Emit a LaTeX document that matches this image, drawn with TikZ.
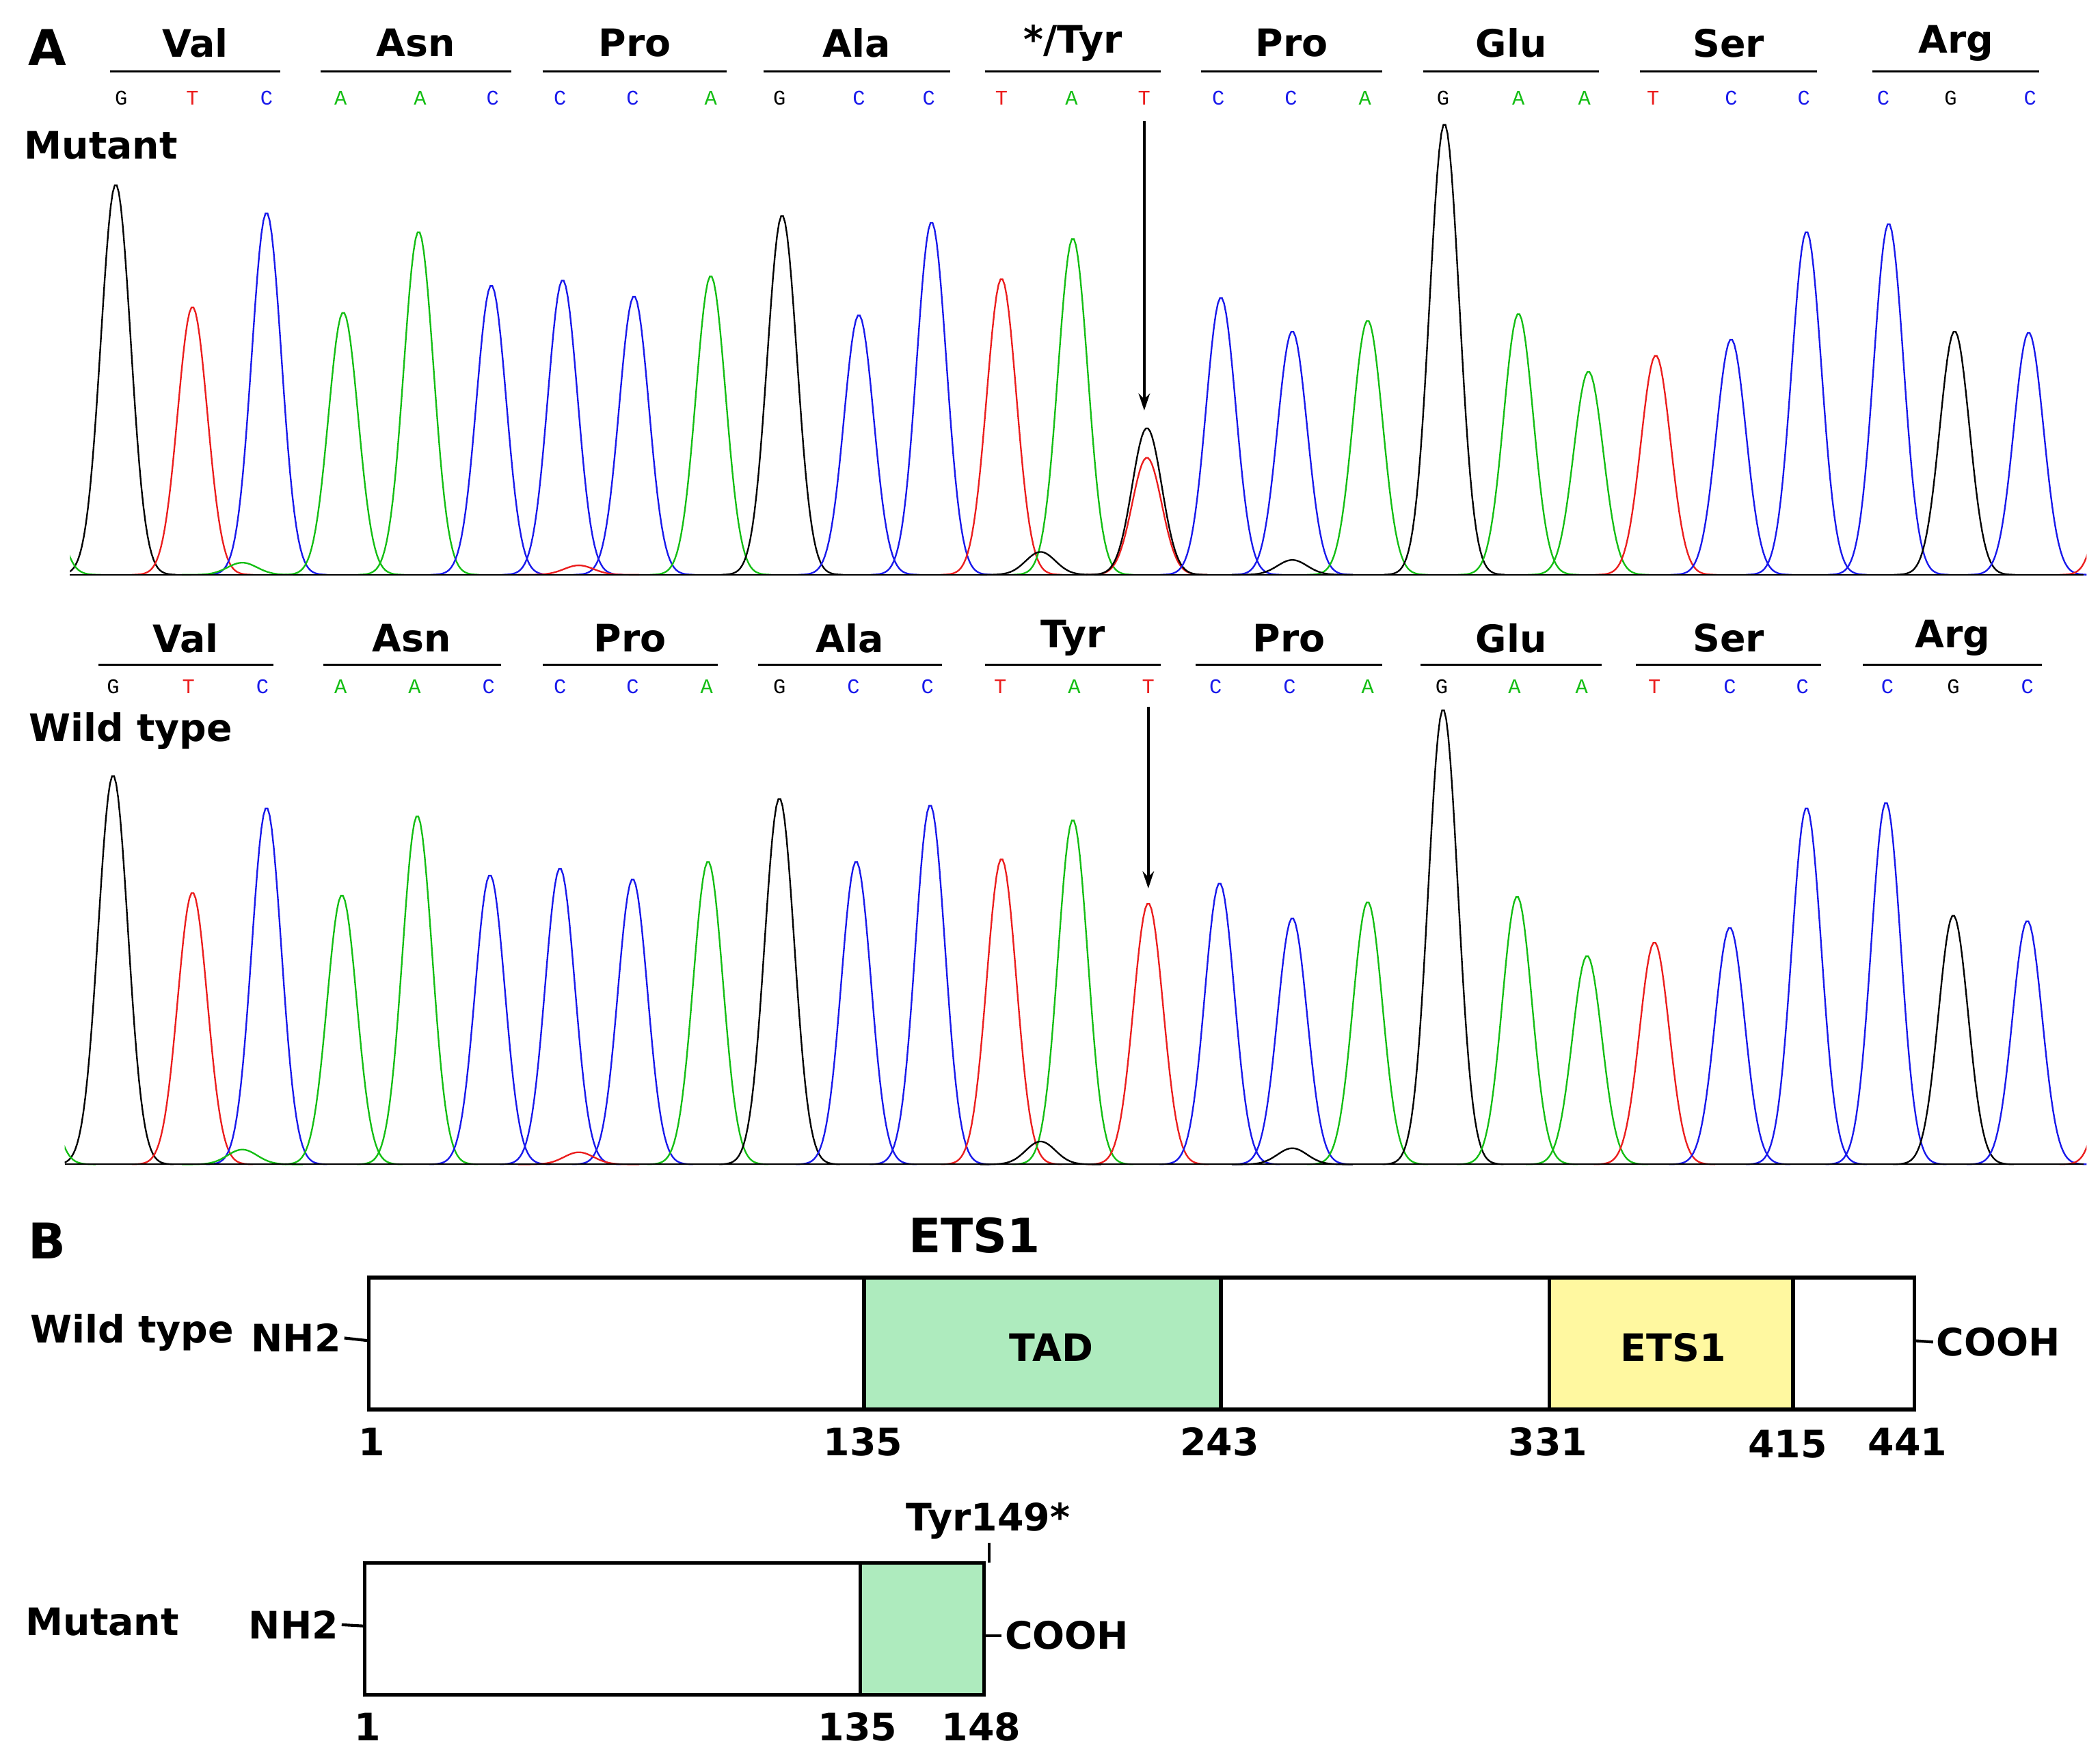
\documentclass[tikz,border=0pt]{standalone}
\usepackage{fontspec}
\setmainfont{DejaVu Sans}
\newfontfamily\monof{Liberation Mono}
\usetikzlibrary{arrows.meta}
\definecolor{tadg}{RGB}{174,235,190}
\definecolor{etsy}{RGB}{255,248,160}
\definecolor{pr}{RGB}{235,30,30}
\definecolor{pg}{RGB}{20,190,20}
\definecolor{pb}{RGB}{25,25,235}
\newcommand\pk[4]{\draw[trace,#1] plot[domain=#2-45:#2+45,samples=60,variable=\t] (\t,{#4-(#4-#3)*exp(-((\t-#2)^2)/242)});}
\begin{document}
\begin{tikzpicture}[x=0.05cm,y=-0.05cm,
 trace/.style={line width=1.7pt},
 aa/.style={font=\bfseries\fontsize{40}{46}\selectfont},
 lab/.style={font=\bfseries\fontsize{40}{46}\selectfont},
 big/.style={font=\bfseries\fontsize{52}{60}\selectfont},
 bs/.style={font=\monof\fontsize{22}{26}\selectfont},
 uline/.style={line width=2pt},
 dom/.style={draw,line width=4pt},
 num/.style={font=\bfseries\fontsize{40}{46}\selectfont},
 arr/.style={-{Stealth[length=18pt,width=12pt]},line width=2.8pt}]
\useasboundingbox (0,0) rectangle (1560,1303);
% ---------- headers
\node[big] (A) at (35,35) {A};
\node[lab] (mut) at (75,108) {Mutant};
\node[lab] (wt) at (97,543) {Wild type};
\foreach \n/\a/\b/\tx in {Val/82/208/Val,Asn/238/380/Asn,ProA/403/540/Pro,Ala/567/706/Ala,Tyr/732/862/{*/Tyr},ProB/892/1027/Pro,Glu/1057/1188/Glu,Ser/1218/1350/Ser,Arg/1391/1515/Arg}{
 \draw[uline] (\a,53) -- (\b,53);
 \node[aa] (m\n) at ({(\a+\b)/2},32) {\tx};}
\foreach \n/\a/\b/\tx in {Val/73/203/Val,Asn/240/372/Asn,ProA/403/533/Pro,Ala/563/700/Ala,Tyr/732/862/Tyr,ProB/888/1027/Pro,Glu/1055/1190/Glu,Ser/1215/1353/Ser,Arg/1384/1517/Arg}{
 \draw[uline] (\a,494) -- (\b,494);
 \node[aa] (w\n) at ({(\a+\b)/2},474) {\tx};}
\foreach \p/\c/\tx in {90/black/G,143/pr/T,198/pb/C,253/pg/A,312/pg/A,366/pb/C,416/pb/C,470/pb/C,528/pg/A,579/black/G,638/pb/C,690/pb/C,744/pr/T,796/pg/A,850/pr/T,905/pb/C,959/pb/C,1014/pg/A,1072/black/G,1128/pg/A,1177/pg/A,1228/pr/T,1286/pb/C,1340/pb/C,1399/pb/C,1449/black/G,1508/pb/C}{
 \node[bs,text=\c] at (\p,73) {\tx};}
\foreach \p/\c/\tx in {84/black/G,140/pr/T,195/pb/C,253/pg/A,308/pg/A,363/pb/C,416/pb/C,470/pb/C,525/pg/A,579/black/G,634/pb/C,689/pb/C,743/pr/T,798/pg/A,853/pr/T,903/pb/C,958/pb/C,1016/pg/A,1071/black/G,1125/pg/A,1175/pg/A,1229/pr/T,1285/pb/C,1339/pb/C,1402/pb/C,1451/black/G,1506/pb/C}{
 \node[bs,text=\c] at (\p,510) {\tx};}
% ---------- mutant traces
\begin{scope}
\clip (52,0) rectangle (1550,440);
\foreach \c/\p/\y in {black/86/137,pr/143/228,pb/198/158,pg/255/232,pg/311/172,pb/365/212,pb/418/208,pb/471/220,pg/528/205,black/581/160,pb/638/234,pb/692/165,pr/744/207,pg/797/177,pr/852/340,black/852/318,pb/907/221,pb/960/246,pg/1016/238,black/1073/92,pg/1128/233,pg/1180/276,pr/1230/264,pb/1286/252,pb/1342/172,pb/1403/166,black/1452/246,pb/1507/247,pg/30/330,pr/1575/250,black/773/410,pg/180/418,pr/430/420,black/960/416}{\pk{\c}{\p}{\y}{427}}
\end{scope}
\draw[line width=1.5pt] (52,427) -- (1548,427);
% ---------- wild traces
\begin{scope}
\clip (48,440) rectangle (1550,875);
\foreach \c/\p/\y in {black/84/576,pr/143/663,pb/198/600,pg/254/665,pg/310/606,pb/364/650,pb/416/645,pb/470/653,pg/526/640,black/579/593,pb/636/640,pb/691/598,pr/744/638,pg/797/609,pr/853/671,pb/906/656,pb/960/682,pg/1016/670,black/1072/527,pg/1127/666,pg/1179/710,pr/1229/700,pb/1285/689,pb/1342/600,pb/1401/596,black/1451/680,pb/1506/684,pg/26/770,pr/1575/700,black/773/848,pg/180/854,pr/430/856,black/960/853}{\pk{\c}{\p}{\y}{865}}
\end{scope}
\draw[line width=1.5pt] (48,865) -- (1548,865);
% arrows
\coordinate (ma1) at (850,90); \coordinate (ma2) at (850,305);
\coordinate (wa1) at (853,525); \coordinate (wa2) at (853,660);
\draw[arr] (ma1) -- (ma2);
\draw[arr] (wa1) -- (wa2);
% ---------- Part B
\node[big] (B) at (35,922) {B};
\node[font=\bfseries\fontsize{50}{58}\selectfont] (title) at (724,918) {ETS1};
\node[lab] (wtB) at (98,990) {Wild type};
\node[lab] (nh1) at (220,994) {NH2};
\draw[dom,fill=tadg] (642,949) rectangle (907,1047);
\draw[dom,fill=etsy] (1151,949) rectangle (1332,1047);
\draw[dom] (274,949) rectangle (1422,1047);
\node[lab] (tad) at (781,1001) {TAD};
\node[lab] (ets) at (1243,1001) {ETS1};
\coordinate (wl) at (274,996); \coordinate (wr) at (1422,996);
\draw[line width=3pt] (nh1.east) -- (wl);
\node[lab,anchor=west] (co1) at (1436,997) {COOH};
\draw[line width=3pt] (wr) -- (co1.west);
\foreach \p/\tx/\y in {276/1/1071,641/135/1071,906/243/1071,1150/331/1071,1328/415/1073,1417/441/1071}{\node[num] at (\p,\y) {\tx};}
\node[lab] (mutB) at (76,1205) {Mutant};
\node[lab] (nh2) at (218,1207) {NH2};
\draw[dom,fill=tadg] (639,1161) rectangle (731,1259);
\draw[dom] (271,1161) rectangle (731,1259);
\coordinate (ml) at (271,1208); \coordinate (mr) at (731,1215);
\draw[line width=3pt] (nh2.east) -- (ml);
\node[lab,anchor=west] (co2) at (744,1215) {COOH};
\draw[line width=3pt] (mr) -- (co2.west);
\node[lab] (tyr) at (734,1130) {Tyr149*};
\coordinate (tk) at (735,1161);
\draw[line width=3pt] (tyr.south -| tk) -- (tk);
\foreach \p/\tx in {273/1,637/135,729/148}{\node[num] at (\p,1283) {\tx};}
\end{tikzpicture}
\end{document}
